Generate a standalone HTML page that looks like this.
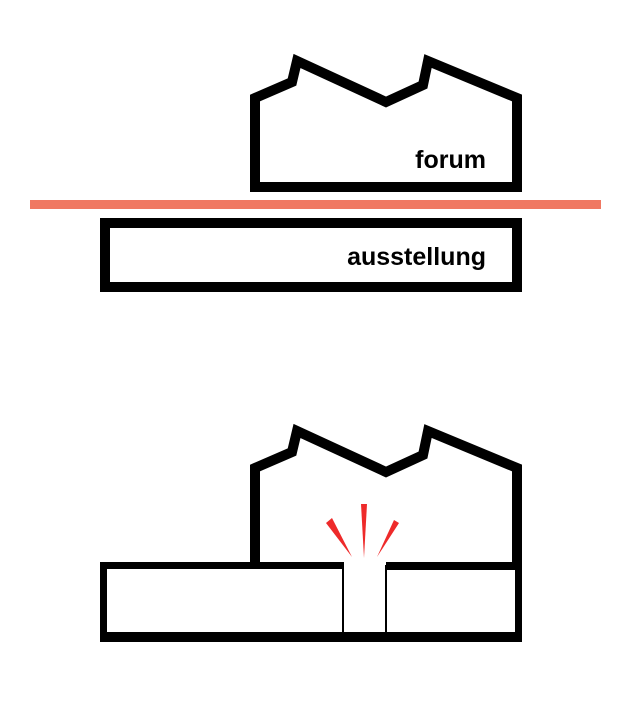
<!DOCTYPE html>
<html><head><style>body{margin:0;background:#fff}svg{display:block}</style></head><body>
<svg width="634" height="707" viewBox="0 0 634 707" xmlns="http://www.w3.org/2000/svg">
<rect width="634" height="707" fill="#fff"/>
<path d="M255,192 V98 L292,82 L297,61 L386,102 L423,85 L428,61 L517,98 V187 H255 Z" fill="none" stroke="#000" stroke-width="10" stroke-linejoin="miter"/>
<text x="486" y="168" text-anchor="end" font-family="Liberation Sans, sans-serif" font-weight="bold" font-size="25" fill="#000">forum</text>
<rect x="30" y="200" width="571" height="9" fill="#f07862"/>
<rect x="105" y="223" width="412" height="64" fill="none" stroke="#000" stroke-width="10"/>
<text x="486" y="265" text-anchor="end" font-family="Liberation Sans, sans-serif" font-weight="bold" font-size="25" fill="#000">ausstellung</text>
<path d="M255,565 V468 L292,452 L297,431 L386,472 L423,455 L428,431 L517,468 V565" fill="none" stroke="#000" stroke-width="10"/>
<path d="M100,562 H344 V569 H107 V632 H344 V642 H100 Z" fill="#000"/>
<path d="M386,562 H522 V642 H344 V632 H515 V570 H386 Z" fill="#000"/>
<rect x="342" y="565" width="2" height="70" fill="#000"/>
<rect x="385" y="565" width="2" height="70" fill="#000"/>
<polygon points="361,504 367,504 364,558" fill="#ee2a2a"/>
<polygon points="326,523 332,518 352,557" fill="#ee2a2a"/>
<polygon points="394,520 399,523 377,557" fill="#ee2a2a"/>
</svg>
</body></html>
